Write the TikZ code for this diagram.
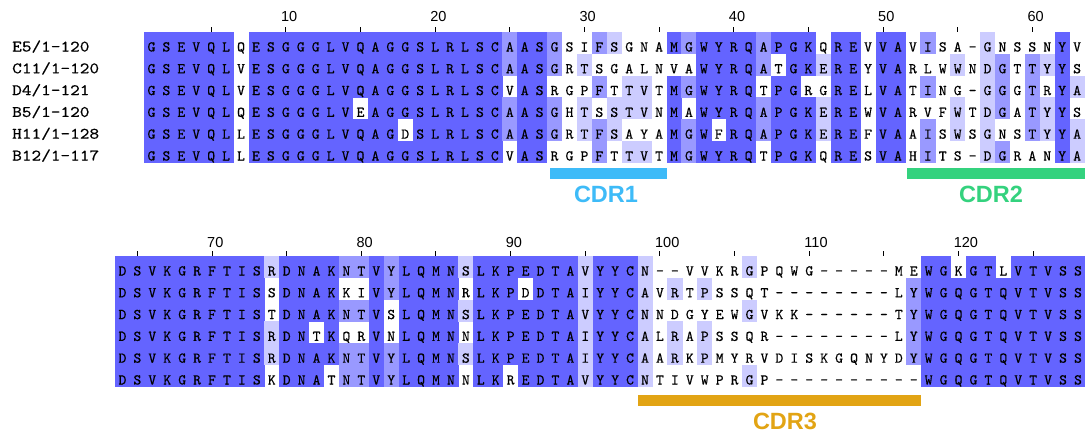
\documentclass[tikz,border=0pt]{standalone}
\usepackage{fontspec}
\newfontfamily\seqfont{lmmono10-regular.otf}[FakeBold=0.4]
\newfontfamily\labelfont{Liberation Sans}

% percentage-identity shades
\definecolor{pidhigh}{RGB}{100,100,255}
\definecolor{pidmid}{RGB}{153,153,255}
\definecolor{pidlow}{RGB}{204,204,255}
% CDR annotation colours
\definecolor{cdrone}{RGB}{62,187,248}
\definecolor{cdrtwo}{RGB}{52,210,126}
\definecolor{cdrthree}{RGB}{226,164,20}

\newcommand\cellw{14.93}
\newcommand\rowh{21.8}

\tikzset{
  residue/.style={inner sep=0pt, anchor=base, font=\seqfont\fontsize{15}{18}\selectfont},
  seqname/.style={inner sep=0pt, anchor=base west, font=\seqfont\fontsize{16}{18}\selectfont},
  ruler/.style={inner sep=0pt, anchor=west, font=\labelfont\fontsize{14.5}{17}\selectfont},
  tickmark/.style={line width=1pt, black},
  cdrlabel/.style={inner sep=0pt, font=\labelfont\bfseries\fontsize{23.5}{28}\selectfont},
}

% one alignment cell: x, y (top), shade, residue, row, column
\newcommand\alncell[6]{%
  \fill[fill=#3] (#1,#2) rectangle ++(\cellw+0.25,\rowh+0.25);
  \node[residue] (res-#5-#6) at (#1+0.5*\cellw,#2+19.5) {#4};
}

\ExplSyntaxOn
% aligned sequences, columns 1--63 then 64--128
\tl_const:cn { c_aln_row_1_tl }
  { GSEVQLQESGGGLVQAGGSLRLSCAASGSIFSGNAMGWYRQAPGKQREVVAVISA-GNSSNYV
    DSVKGRFTISRDNAKNTVYLQMNSLKPEDTAVYYCN--VVKRGPQWG-----MEWGKGTLVTVSS }
\tl_const:cn { c_aln_row_2_tl }
  { GSEVQLVESGGGLVQAGGSLRLSCAASGRTSGALNVAWYRQATGKEREYVARLWWNDGTTYYS
    DSVKGRFTISSDNAKKIVYLQMNRLKPDDTAIYYCAVRTPSSQT--------LYWGQGTQVTVSS }
\tl_const:cn { c_aln_row_3_tl }
  { GSEVQLVESGGGLVQAGGSLRLSCVASRGPFTTVTMGWYRQTPGRGRELVATING-GGGTRYA
    DSVKGRFTISTDNAKNTVSLQMNSLKPEDTAVYYCNNDGYEWGVKK------TYWGQGTQVTVSS }
\tl_const:cn { c_aln_row_4_tl }
  { GSEVQLQESGGGLVEAGGSLRLSCAASGHTSSTVNMAWYRQAPGKEREWVARVFWTDGATYYS
    DSVKGRFTISRDNTKQRVNLQMNNLKPEDTAIYYCALRAPSSQR--------LYWGQGTQVTVSS }
\tl_const:cn { c_aln_row_5_tl }
  { GSEVQLLESGGGLVQAGDSLRLSCAASGRTFSAYAMGWFRQAPGKEREFVAAISWSGNSTYYA
    DSVKGRFTISRDNAKNTVYLQMNSLKPEDTAIYYCAARKPMYRVDISKGQNYDYWGQGTQVTVSS }
\tl_const:cn { c_aln_row_6_tl }
  { GSEVQLLESGGGLVQAGGSLRLSCVASRGPFTTVTMGWYRQTPGKQRESVAHITS-DGRANYA
    DSVKGRFTISKDNATNTVYLQMNNLKREDTAVYYCNTIVWPRGP----------WGQGTQVTVSS }

\int_new:N \l__aln_max_int
\int_new:N \l__aln_cnt_int
\tl_new:N \l__aln_colour_tl

\cs_new:Npn \__aln_get:nn #1#2
  { \tl_item:cn { c_aln_row_ #1 _tl } {#2} }

% how many sequences share the residue of row #1 in column #2
\cs_new_protected:Npn \__aln_count:nn #1#2
  {
    \int_zero:N \l__aln_cnt_int
    \int_step_inline:nn { 6 }
      {
        \str_if_eq:eeT { \__aln_get:nn {#1} {#2} } { \__aln_get:nn {##1} {#2} }
          { \int_incr:N \l__aln_cnt_int }
      }
  }

% #1 alignment column, #2 column within block, #3 block left, #4 block top
\cs_new_protected:Npn \__aln_column:nnnn #1#2#3#4
  {
    \int_zero:N \l__aln_max_int
    \int_step_inline:nn { 6 }
      {
        \str_if_eq:eeF { \__aln_get:nn {##1} {#1} } { - }
          {
            \__aln_count:nn {##1} {#1}
            \int_compare:nNnT \l__aln_cnt_int > \l__aln_max_int
              { \int_set_eq:NN \l__aln_max_int \l__aln_cnt_int }
          }
      }
    \int_step_inline:nn { 6 }
      {
        \tl_set:Nn \l__aln_colour_tl { none }
        \str_if_eq:eeF { \__aln_get:nn {##1} {#1} } { - }
          {
            \__aln_count:nn {##1} {#1}
            \int_compare:nNnT \l__aln_cnt_int = \l__aln_max_int
              {
                \int_compare:nNnTF \l__aln_max_int > 4
                  { \tl_set:Nn \l__aln_colour_tl { pidhigh } }
                  {
                    \int_compare:nNnTF \l__aln_max_int = 4
                      { \tl_set:Nn \l__aln_colour_tl { pidmid } }
                      {
                        \int_compare:nNnT \l__aln_max_int = 3
                          { \tl_set:Nn \l__aln_colour_tl { pidlow } }
                      }
                  }
              }
          }
        \use:e
          {
            \exp_not:N \alncell
              { \fp_eval:n { #3 + (#2 - 1) * \cellw } }
              { \fp_eval:n { #4 + (##1 - 1) * \rowh } }
              { \l__aln_colour_tl }
              { \__aln_get:nn {##1} {#1} }
              { ##1 }
              { #1 }
          }
      }
  }

% #1 first column, #2 last column, #3 left x, #4 top y
\cs_new_protected:Npn \aln_block:nnnn #1#2#3#4
  {
    \int_step_inline:nnn {#1} {#2}
      { \__aln_column:nnnn {##1} { \int_eval:n { ##1 - #1 + 1 } } {#3} {#4} }
  }
\cs_new_eq:NN \drawblock \aln_block:nnnn
\ExplSyntaxOff

\begin{document}
\begin{tikzpicture}[x=1pt,y=-1pt]
  \useasboundingbox (0,0) rectangle (1085,434);
  \fill[white] (0,0) rectangle (1085,434);

  % ---- upper block: columns 1--63 ----
  \foreach \c in {5,10,...,60}
    \draw[tickmark] ({144+(\c-0.5)*\cellw},27) -- ++(0,5);
  \foreach \c in {10,20,...,60}
    \node[ruler] (rul-\c) at ({144+(\c-0.5)*\cellw-5},17) {\c};

  \node[seqname] (name-E5)  at (12,51.5)  {\scalebox{1.15}[1]{E5/1-120}};
  \node[seqname] (name-C11) at (12,73.3)  {\scalebox{1.15}[1]{C11/1-120}};
  \node[seqname] (name-D4)  at (12,95.1)  {\scalebox{1.15}[1]{D4/1-121}};
  \node[seqname] (name-B5)  at (12,116.9) {\scalebox{1.15}[1]{B5/1-120}};
  \node[seqname] (name-H11) at (12,138.7) {\scalebox{1.15}[1]{H11/1-128}};
  \node[seqname] (name-B12) at (12,160.5) {\scalebox{1.15}[1]{B12/1-117}};

  \drawblock{1}{63}{144}{32}

  \fill[cdrone] (550,168) rectangle (667,179);
  \node[cdrlabel, text=cdrone] (cdr1) at (606,194.5) {CDR1};
  \fill[cdrtwo] (907,168) rectangle (1085,179);
  \node[cdrlabel, text=cdrtwo] (cdr2) at (991,194.5) {CDR2};

  % ---- lower block: columns 64--128 ----
  \foreach \c in {65,70,...,125}
    \draw[tickmark] ({115+(\c-63.5)*\cellw},251) -- ++(0,5);
  \foreach \c in {70,80,...,120}
    \node[ruler] (rul-\c) at ({115+(\c-63.5)*\cellw-5},243) {\c};

  \drawblock{64}{128}{115}{256}

  \fill[cdrthree] (638,395) rectangle (921,406);
  \node[cdrlabel, text=cdrthree] (cdr3) at (785,421) {CDR3};
\end{tikzpicture}
\end{document}
